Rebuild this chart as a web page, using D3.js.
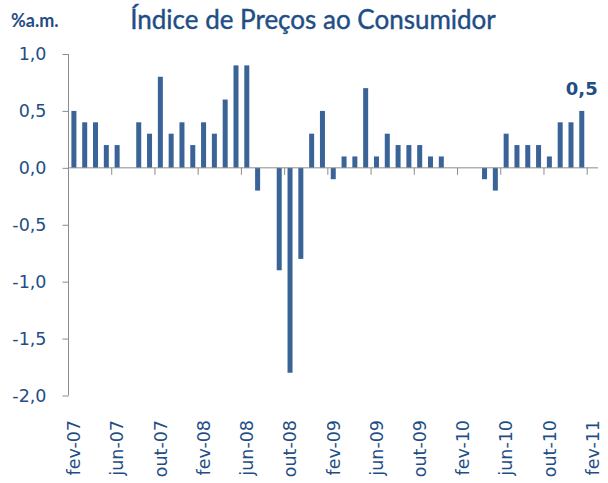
<!DOCTYPE html>
<html>
<head>
<meta charset="utf-8">
<script src="https://cdn.jsdelivr.net/npm/d3@7"></script>
<style>
  body { margin: 0; background: #fff; }
  svg { display: block; }
</style>
</head>
<body>
<svg id="chart" width="608" height="483"></svg>
<script>
// monthly IPC values, fev-07 .. fev-11 (fev-11 not yet published)
var months = ["fev-07","mar-07","abr-07","mai-07","jun-07","jul-07","ago-07","set-07","out-07","nov-07","dez-07","jan-08",
              "fev-08","mar-08","abr-08","mai-08","jun-08","jul-08","ago-08","set-08","out-08","nov-08","dez-08","jan-09",
              "fev-09","mar-09","abr-09","mai-09","jun-09","jul-09","ago-09","set-09","out-09","nov-09","dez-09","jan-10",
              "fev-10","mar-10","abr-10","mai-10","jun-10","jul-10","ago-10","set-10","out-10","nov-10","dez-10","jan-11",
              "fev-11"];
var ipc = [0.5,0.4,0.4,0.2,0.2,0.0,0.4,0.3,0.8,0.3,0.4,0.2,
           0.4,0.3,0.6,0.9,0.9,-0.2,0.0,-0.9,-1.8,-0.8,0.3,0.5,
           -0.1,0.1,0.1,0.7,0.1,0.3,0.2,0.2,0.2,0.1,0.1,0.0,
           0.0,0.0,-0.1,-0.2,0.3,0.2,0.2,0.2,0.1,0.4,0.4,0.5,
           null];
var y_ticks = [-2,-1.5,-1,-0.5,0,0.5,1];
var x_labels = ["fev-07","jun-07","out-07","fev-08","jun-08","out-08","fev-09","jun-09","out-09","fev-10","jun-10","out-10","fev-11"];

var text_colour = "#1f4e85",
    bar_colour = "#3a6397",
    axis_colour = "#8c8c8c";

var svg = d3.select("#chart");

var ptBR = d3.formatLocale({decimal: ",", thousands: ".", grouping: [3], currency: ["R$", ""], minus: "-"});
var fmt = ptBR.format(".1f");

var x = d3.scaleBand().domain(months).range([68.5, 598]).padding(0);
var y = d3.scaleLinear().domain([-2, 1]).range([395.5, 54]);

//title + unit
svg.append("text")
    .attr("x", 313).attr("y", 29)
    .attr("text-anchor", "middle")
    .attr("font-family", "Lato, 'Open Sans', sans-serif")
    .attr("font-size", 26)
    .attr("stroke", text_colour).attr("stroke-width", 0.4)
    .attr("fill", text_colour)
    .text("Índice de Preços ao Consumidor");

svg.append("text")
    .attr("x", 11).attr("y", 27)
    .attr("font-family", "Lato, 'Open Sans', sans-serif")
    .attr("font-weight", "bold")
    .attr("font-size", 18)
    .attr("fill", text_colour)
    .text("%a.m.");

//bars
var bar_w = 5;
svg.append("g").selectAll("rect")
    .data(ipc.map((v, i) => ({month: months[i], value: v})).filter(d => d.value !== null && d.value !== 0))
    .join("rect")
    .attr("x", d => x(d.month) + (x.bandwidth() - bar_w) / 2)
    .attr("width", bar_w)
    .attr("y", d => y(Math.max(0, d.value)))
    .attr("height", d => Math.abs(y(d.value) - y(0)))
    .attr("fill", bar_colour);

//y axis
var y_axis = svg.append("g")
    .attr("transform", "translate(68.5,0)")
    .call(d3.axisLeft(y).tickValues(y_ticks).tickSize(6).tickPadding(16).tickFormat(fmt));
y_axis.select(".domain").attr("stroke", axis_colour).attr("d", "M0," + y(1) + "V" + y(-2));
y_axis.selectAll(".tick line").attr("stroke", axis_colour);
y_axis.selectAll(".tick text")
    .attr("font-family", "'DejaVu Sans', sans-serif")
    .attr("font-size", 17.5)
    .attr("fill", text_colour);

//x axis on zero line, ticks on category boundaries every 4 months
var boundaries = d3.range(0, months.length, 4);
var x_axis = svg.append("g").attr("transform", "translate(0," + y(0) + ")");
x_axis.append("line")
    .attr("x1", x.range()[0]).attr("x2", x.range()[1])
    .attr("stroke", axis_colour);
x_axis.selectAll(".xtick")
    .data(boundaries)
    .join("line")
    .attr("class", "xtick")
    .attr("x1", d => x.range()[0] + d * x.step())
    .attr("x2", d => x.range()[0] + d * x.step())
    .attr("y1", 0).attr("y2", 7)
    .attr("stroke", axis_colour);

svg.append("g").selectAll("text")
    .data(x_labels)
    .join("text")
    .attr("transform", d => "translate(" + (x(d) + x.bandwidth() / 2) + ",420) rotate(-90)")
    .attr("dy", "0.36em")
    .attr("text-anchor", "end")
    .attr("font-family", "'DejaVu Sans', sans-serif")
    .attr("font-size", 17.5)
    .attr("fill", text_colour)
    .text(d => d);

//label on the latest value
var last = ipc.reduce((acc, v, i) => (v !== null ? i : acc), 0);
svg.append("text")
    .attr("x", x(months[last]) + x.bandwidth() / 2)
    .attr("y", y(ipc[last]) - 16)
    .attr("text-anchor", "middle")
    .attr("font-family", "'DejaVu Sans', sans-serif")
    .attr("font-weight", "bold")
    .attr("font-size", 18)
    .attr("fill", text_colour)
    .text(fmt(ipc[last]));
</script>
</body>
</html>
